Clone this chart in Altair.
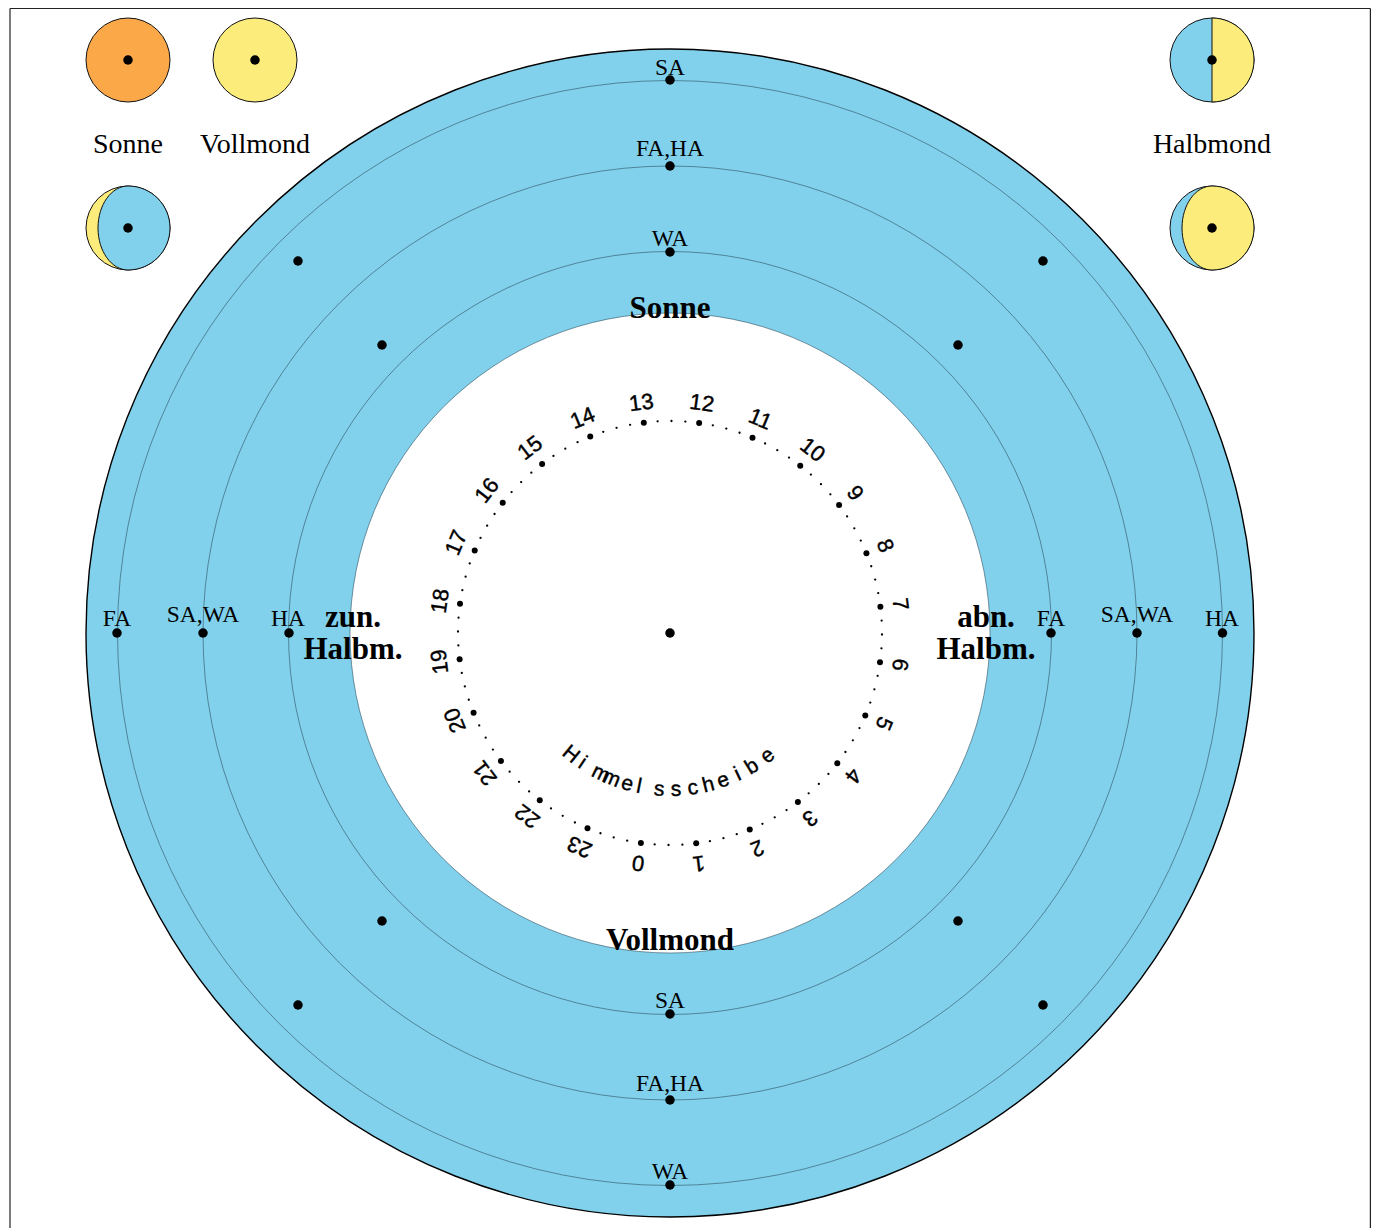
import math
import altair as alt
import pandas as pd

# diagram units: 1 unit = 1 px, origin at the disc centre, y upwards
X_DOMAIN = [-662, 701]
Y_DOMAIN = [-595, 625]
W, H = 1363, 1220

BLUE = "#81D1EC"
YELLOW = "#FCEC7C"
ORANGE = "#FBA848"

ring_r = [552.5, 467, 381.5]
outer_r = 584
inner_r = 320

ring_dot_x = [0, 0, 0, 0, 0, 0, -553, -467, -381, 381, 467, 552.5]
ring_dot_y = [553, 467, 381, -381, -467, -552, 0, 0, 0, 0, 0, 0]
diag_dot_x = [-372, -288, 373, 288, -288, -372, 288, 373]
diag_dot_y = [372, 288, 372, 288, -288, -372, -288, -372]

small_text = ["SA", "FA,HA", "WA", "SA", "FA,HA", "WA", "FA", "SA,WA", "HA", "FA", "SA,WA", "HA"]
small_x = [0, 0, 0, 0, 0, 0, -553, -467, -382, 381, 467, 552]
small_y = [558, 477, 387, -375, -458, -546, 7, 11, 7, 7, 11, 7]

bold_text = ["Sonne", "Vollmond", "zun.", "Halbm.", "abn.", "Halbm."]
bold_x = [0, 0, -317, -317, 316, 316]
bold_y = [315, -317, 6, -26, 6, -26]

legend_text = ["Sonne", "Vollmond", "Halbmond"]
legend_x = [-542, -415, 542]
legend_y = [480, 480, 480]

disc_x = [-542, -415, 542, -542, 542]
disc_y = [573, 573, 573, 405, 405]
disc_fill = [ORANGE, YELLOW, BLUE, YELLOW, BLUE]
disc_r = 42

half_x = [542]
half_y = [573]
left_cres_x = [-542]
left_cres_y = [405]
right_cres_x = [542]
right_cres_y = [405]

frame_x = [-660, 700.4, -660]
frame_x2 = [-660, 700.4, 700.4]
frame_y = [624.5, 624.5, 624.5]
frame_y2 = [-595, -595, 624.5]

hours = list(range(24))
hour_top = 12
hour_offset = 7.9
hour_step = 15
dial_r = 212
label_r = 232

word_letters = list("Himmelsscheibe")
word_angles = [39.2, 34, 26.2, 21.9, 15.8, 11.4, 4, -2.2, -8.4, -14.2, -19.8, -25.6, -31.5, -38.5]
word_r = 157

HALF = "M0,-1 C0.5523,-1 1,-0.5523 1,0 C1,0.5523 0.5523,1 0,1 Z"
LENS = ("M0,-1 C0.5523,-1 1,-0.5523 1,0 C1,0.5523 0.5523,1 0,1 "
        "C-0.394,1 -0.714,0.5523 -0.714,0 C-0.714,-0.5523 -0.394,-1 0,-1 Z")

xs = alt.Scale(domain=X_DOMAIN, range=[0, W], nice=False, zero=False)
ys = alt.Scale(domain=Y_DOMAIN, range=[H, 0], nice=False, zero=False)
ex = alt.X("x:Q", scale=xs, axis=None)
ey = alt.Y("y:Q", scale=ys, axis=None)


def discs(xv, yv, d, fill, stroke=None, sw=0, shape="circle"):
    df = pd.DataFrame({"x": xv, "y": yv, "s": [d * d] * len(xv)})
    kw = dict(filled=True, fill=fill, opacity=1, shape=shape)
    if stroke:
        kw.update(stroke=stroke, strokeWidth=sw)
    else:
        kw.update(strokeWidth=0)
    return alt.Chart(df).mark_point(**kw).encode(x=ex, y=ey, size=alt.Size("s:Q", scale=None, legend=None))


def texts(tv, xv, yv, size, font="Liberation Serif", weight="normal", base="alphabetic"):
    df = pd.DataFrame({"t": tv, "x": xv, "y": yv})
    return alt.Chart(df).mark_text(
        font=font, fontSize=size, fontWeight=weight, baseline=base, align="center", color="#000000"
    ).encode(x=ex, y=ey, text="t:N")


layers = []

# frame
frame = pd.DataFrame({"x": frame_x, "x2": frame_x2, "y": frame_y, "y2": frame_y2})
layers.append(alt.Chart(frame).mark_rule(color="#222222", strokeWidth=1.2).encode(
    x=ex, y=ey, x2="x2:Q", y2="y2:Q"))

# main disc and rings
layers.append(discs([0], [0], 2 * outer_r, BLUE, "#000000", 1.4))
for r in ring_r:
    layers.append(discs([0], [0], 2 * r, BLUE, "#2F4F5F", 0.6))
layers.append(discs([0], [0], 2 * inner_r, "#FFFFFF", "#2F4F5F", 0.6))

# legend discs
for x0, y0, f in zip(disc_x, disc_y, disc_fill):
    layers.append(discs([x0], [y0], 2 * disc_r, f, "#111111", 1.0))
layers.append(discs(half_x, half_y, 2 * disc_r, YELLOW, "#111111", 1.0, HALF))
layers.append(discs(left_cres_x, left_cres_y, 2 * disc_r, BLUE, "#111111", 1.0, LENS))
layers.append(discs(right_cres_x, right_cres_y, 2 * disc_r, YELLOW, "#111111", 1.0, LENS))
layers.append(discs(disc_x + [0], disc_y + [0], 9.5, "#000000"))

# ring dots
layers.append(discs(ring_dot_x + diag_dot_x, ring_dot_y + diag_dot_y, 9.5, "#000000"))

# dial
phi = [hour_offset + (hour_top - h) * hour_step for h in hours]
hx = [dial_r * math.sin(math.radians(p)) for p in phi]
hy = [dial_r * math.cos(math.radians(p)) for p in phi]
layers.append(discs(hx, hy, 6, "#000000"))

tick_phi = [p + k * hour_step / 4 for p in phi for k in (1, 2, 3)]
tx = [dial_r * math.sin(math.radians(p)) for p in tick_phi]
ty = [dial_r * math.cos(math.radians(p)) for p in tick_phi]
layers.append(discs(tx, ty, 2.3, "#000000"))

hour_df = pd.DataFrame({
    "t": [str(h) for h in hours],
    "x": [label_r * math.sin(math.radians(p)) for p in phi],
    "y": [label_r * math.cos(math.radians(p)) for p in phi],
    "rot": [p % 360 for p in phi],
})
layers.append(alt.Chart(hour_df).mark_text(
    font="Liberation Sans", fontSize=22, baseline="middle", align="center", color="#000000",
    stroke="#000000", strokeWidth=0.4
).encode(x=ex, y=ey, text="t:N", angle=alt.Angle("rot:Q", scale=None)))

word_df = pd.DataFrame({
    "t": word_letters,
    "x": [-word_r * math.sin(math.radians(a)) for a in word_angles],
    "y": [-word_r * math.cos(math.radians(a)) for a in word_angles],
    "rot": [a % 360 for a in word_angles],
})
layers.append(alt.Chart(word_df).mark_text(
    font="Liberation Sans", fontSize=21, baseline="middle", align="center", color="#000000",
    stroke="#000000", strokeWidth=0.4
).encode(x=ex, y=ey, text="t:N", angle=alt.Angle("rot:Q", scale=None)))

# labels
layers.append(texts(small_text, small_x, small_y, 23.5))
layers.append(texts(bold_text, bold_x, bold_y, 31, weight="bold"))
layers.append(texts(legend_text, legend_x, legend_y, 28))

chart = alt.layer(*layers).properties(
    width=W, height=H, padding=0,
    autosize=alt.AutoSizeParams(type="none"),
).configure_view(stroke=None)

chart.save("out.html", embed_options={"renderer": "svg", "actions": False})
